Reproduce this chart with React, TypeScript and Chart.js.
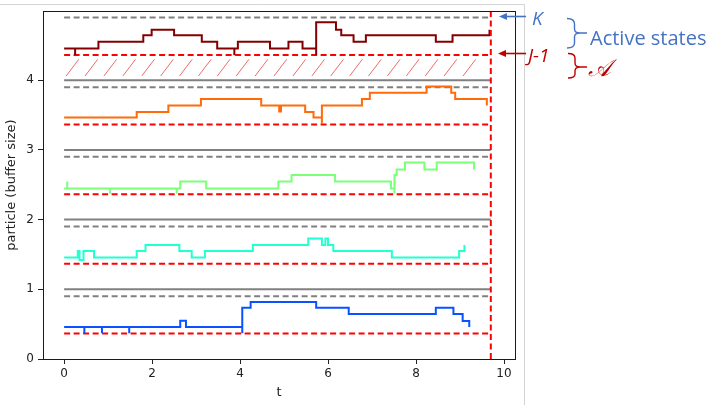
import React, { useEffect, useRef } from "react";
import { Chart, registerables } from "chart.js";

Chart.register(...registerables);

// ---------- data ----------
const T_END = 9.7;
const X_MIN = -0.48;
const X_MAX = 10.25;
const Y_MIN = 0;
const Y_MAX = 4.99;

const xTicks = [0, 2, 4, 6, 8, 10];
const yTicks = [0, 1, 2, 3, 4];

// particle 0 (blue)
const blueT = [0, 0.46, 0.46, 0.86, 0.86, 1.48, 1.48, 2.64, 2.77, 4.05, 4.05, 4.24, 5.73, 6.47, 8.45, 8.85, 9.06, 9.21];
const blueV = [0.46, 0.37, 0.46, 0.37, 0.46, 0.37, 0.46, 0.55, 0.46, 0.37, 0.735, 0.817, 0.735, 0.645, 0.735, 0.645, 0.545, 0.46];

// particle 1 (aquamarine)
const cyanT = [0, 0.31, 0.35, 0.44, 0.68, 1.65, 1.85, 2.62, 2.9, 3.2, 4.29, 5.55, 5.86, 5.94, 6.0, 6.12, 7.45, 8.98, 9.1];
const cyanV = [1.458, 1.55, 1.42, 1.55, 1.458, 1.55, 1.634, 1.55, 1.458, 1.55, 1.634, 1.73, 1.634, 1.73, 1.634, 1.55, 1.458, 1.55, 1.634];

// particle 2 (light green)
const greenT = [0, 0.07, 0.07, 1.045, 1.045, 2.56, 2.56, 2.64, 3.23, 4.87, 5.17, 6.16, 7.43, 7.51, 7.51, 7.56, 7.75, 8.19, 8.47, 9.32];
const greenV = [2.447, 2.547, 2.447, 2.37, 2.447, 2.37, 2.447, 2.547, 2.447, 2.547, 2.64, 2.547, 2.447, 2.37, 2.64, 2.72, 2.82, 2.72, 2.82, 2.72];

// particle 3 (orange)
const orangeT = [0, 1.65, 2.37, 3.11, 4.48, 4.89, 4.93, 5.48, 5.67, 5.86, 5.86, 6.77, 6.95, 8.24, 8.8, 8.89, 9.61];
const orangeV = [3.465, 3.545, 3.637, 3.73, 3.637, 3.55, 3.637, 3.545, 3.465, 3.37, 3.637, 3.73, 3.82, 3.91, 3.82, 3.73, 3.637];

// particle 4 (dark red)
const darkT = [0, 0.25, 0.25, 0.78, 1.8, 1.99, 2.5, 3.13, 3.48, 3.87, 3.87, 3.95, 4.68, 5.1, 5.42, 5.73, 5.73, 6.18, 6.3, 6.58, 6.86, 8.45, 8.83, 9.67];
const darkV = [4.455, 4.358, 4.455, 4.55, 4.645, 4.725, 4.645, 4.55, 4.455, 4.358, 4.455, 4.55, 4.455, 4.55, 4.455, 4.358, 4.83, 4.725, 4.645, 4.55, 4.645, 4.55, 4.645, 4.725];

const seriesT = [blueT, cyanT, greenT, orangeT, darkT];
const seriesV = [blueV, cyanV, greenV, orangeV, darkV];
const seriesColors = ["#0a52ff", "#22ffd0", "#7dff7a", "#ff6a0a", "#840000"];

// reference levels
const kLevels = [0.9, 1.9, 2.9, 3.9, 4.9]; // gray dashed (K)
const jLevels = [0.365, 1.365, 2.365, 3.365, 4.36]; // red dashed (J-1)
const bandLines = [1, 2, 3, 4]; // gray solid separators
const hatchY = [4.06, 4.3];
const hatchT = [0, 9.7];

// ---------- plugin ----------
const decor = {
  id: "decor",
  beforeDatasetsDraw(chart: any) {
    const { ctx, scales } = chart;
    const x = scales.x;
    const y = scales.y;
    const x0 = x.getPixelForValue(hatchT[0]);
    const x1 = x.getPixelForValue(hatchT[1]);
    const yb = y.getPixelForValue(hatchY[0]);
    const yt = y.getPixelForValue(hatchY[1]);
    const dx = (yb - yt) * 0.76;
    ctx.save();
    ctx.strokeStyle = "rgba(232,70,70,0.8)";
    ctx.lineWidth = 1;
    ctx.beginPath();
    for (let bx = x0 + 2; bx + dx <= x1; bx += 18.9) {
      ctx.moveTo(bx, yb);
      ctx.lineTo(bx + dx, yt);
    }
    ctx.stroke();
    ctx.restore();
  },
  afterDraw(chart: any) {
    const { ctx, chartArea } = chart;
    ctx.save();
    // frame
    ctx.strokeStyle = "#1a1a1a";
    ctx.lineWidth = 1;
    ctx.strokeRect(
      Math.round(chartArea.left) + 0.5,
      Math.round(chartArea.top) + 0.5,
      Math.round(chartArea.right - chartArea.left),
      Math.round(chartArea.bottom - chartArea.top)
    );
    // picture border
    ctx.strokeStyle = "#d4d4d4";
    ctx.beginPath();
    ctx.moveTo(0, 4.5);
    ctx.lineTo(524.5, 4.5);
    ctx.lineTo(524.5, 405);
    ctx.stroke();

    const blue = "#4472c4";
    const red = "#c00000";
    // K arrow
    ctx.strokeStyle = blue;
    ctx.fillStyle = blue;
    ctx.lineWidth = 1.6;
    ctx.beginPath();
    ctx.moveTo(526, 16.5);
    ctx.lineTo(504, 16.5);
    ctx.stroke();
    ctx.beginPath();
    ctx.moveTo(499, 16.5);
    ctx.lineTo(507, 13);
    ctx.lineTo(507, 20);
    ctx.closePath();
    ctx.fill();
    ctx.font = 'italic 19px "Open Sans"';
    ctx.textBaseline = "alphabetic";
    ctx.textAlign = "left";
    ctx.fillText("K", 532, 25);
    // blue bracket
    ctx.lineWidth = 1.4;
    ctx.beginPath();
    ctx.moveTo(567, 18.5);
    ctx.quadraticCurveTo(574.5, 18.5, 574.5, 24);
    ctx.lineTo(574.5, 29);
    ctx.quadraticCurveTo(574.5, 33, 580, 33);
    ctx.quadraticCurveTo(574.5, 33, 574.5, 37);
    ctx.lineTo(574.5, 43);
    ctx.quadraticCurveTo(574.5, 48, 567, 48);
    ctx.moveTo(580, 33);
    ctx.lineTo(587, 33);
    ctx.stroke();
    ctx.font = '20px "Open Sans"';
    ctx.fillText("Active states", 590, 45, 117);

    // J-1 arrow
    ctx.strokeStyle = red;
    ctx.fillStyle = red;
    ctx.lineWidth = 1.6;
    ctx.beginPath();
    ctx.moveTo(526, 53.5);
    ctx.lineTo(503, 53.5);
    ctx.stroke();
    ctx.beginPath();
    ctx.moveTo(498, 53.5);
    ctx.lineTo(506, 50);
    ctx.lineTo(506, 57);
    ctx.closePath();
    ctx.fill();
    ctx.font = 'italic 19px "Open Sans"';
    ctx.fillText("J-1", 528, 62);
    // red bracket
    ctx.lineWidth = 1.4;
    ctx.beginPath();
    ctx.moveTo(568, 53.5);
    ctx.quadraticCurveTo(575, 53.5, 575, 58);
    ctx.lineTo(575, 63);
    ctx.quadraticCurveTo(575, 67, 580, 67);
    ctx.quadraticCurveTo(575, 67, 575, 71);
    ctx.lineTo(575, 74);
    ctx.quadraticCurveTo(575, 78, 568, 78);
    ctx.moveTo(580, 67);
    ctx.lineTo(587, 67);
    ctx.stroke();
    ctx.font = 'italic 24px "DejaVu Serif"';
    ctx.fillText("\u{1D49C}", 588, 76);
    ctx.restore();
  },
};

export default function App() {
  const ref = useRef<HTMLCanvasElement>(null);
  useEffect(() => {
    if (!ref.current) return;
    const datasets: any[] = [];
    seriesT.forEach((ts, i) => {
      datasets.push({
        data: ts.map((t, j) => ({ x: t, y: seriesV[i][j] })),
        stepped: "before",
        borderColor: seriesColors[i],
        borderWidth: 2,
        pointRadius: 0,
        fill: false,
      });
    });
    jLevels.forEach((l) => {
      datasets.push({
        data: [{ x: 0, y: l }, { x: T_END, y: l }],
        borderColor: "#ff0000",
        borderDash: [6, 3.5],
        borderWidth: 2,
        pointRadius: 0,
      });
    });
    kLevels.forEach((l) => {
      datasets.push({
        data: [{ x: 0, y: l }, { x: T_END, y: l }],
        borderColor: "#808080",
        borderDash: [6, 3.5],
        borderWidth: 2,
        pointRadius: 0,
      });
    });
    bandLines.forEach((l) => {
      datasets.push({
        data: [{ x: 0, y: l }, { x: T_END, y: l }],
        borderColor: "#808080",
        borderWidth: 2,
        pointRadius: 0,
      });
    });
    datasets.unshift({
      data: [{ x: T_END, y: Y_MIN }, { x: T_END, y: Y_MAX }],
      borderColor: "#ff0000",
      borderDash: [6, 3.5],
      borderWidth: 2,
      pointRadius: 0,
    });

    const tickFont = { family: "DejaVu Sans", size: 12 };
    const titleFont = { family: "DejaVu Sans", size: 13 };
    const chart = new Chart(ref.current, {
      type: "line",
      data: { datasets },
      options: {
        animation: false,
        responsive: false,
        devicePixelRatio: 1,
        clip: false as any,
        layout: { padding: { left: 0, right: 192, top: 11, bottom: 0 } },
        plugins: { legend: { display: false }, tooltip: { enabled: false } },
        elements: { line: { tension: 0 } },
        scales: {
          x: {
            type: "linear",
            min: X_MIN,
            max: X_MAX,
            afterBuildTicks: (s: any) => {
              s.ticks = xTicks.map((v) => ({ value: v }));
            },
            afterFit: (s: any) => {
              s.height = 46;
            },
            ticks: { font: tickFont, color: "#222", padding: 3, callback: (v: any) => String(v) },
            grid: { drawOnChartArea: false, drawTicks: true, tickLength: 5, color: "#222" },
            border: { display: false },
            title: { display: true, text: "t", font: titleFont, color: "#222", padding: { top: 0, bottom: 5 } },
          },
          y: {
            type: "linear",
            min: Y_MIN,
            max: Y_MAX,
            afterBuildTicks: (s: any) => {
              s.ticks = yTicks.map((v) => ({ value: v }));
            },
            afterFit: (s: any) => {
              s.width = 43;
            },
            ticks: { font: tickFont, color: "#222", padding: 4, callback: (v: any) => String(v) },
            grid: { drawOnChartArea: false, drawTicks: true, tickLength: 5, color: "#222" },
            border: { display: false },
            title: { display: true, text: "particle (buffer size)", font: titleFont, color: "#222", padding: { top: 4, bottom: 0 } },
          },
        },
      },
      plugins: [decor],
    } as any);
    return () => chart.destroy();
  }, []);
  return (
    <div style={{ position: "fixed", left: 0, top: 0, width: 707, height: 405, background: "#fff" }}>
      <canvas ref={ref} width={707} height={405} style={{ display: "block" }} />
    </div>
  );
}
